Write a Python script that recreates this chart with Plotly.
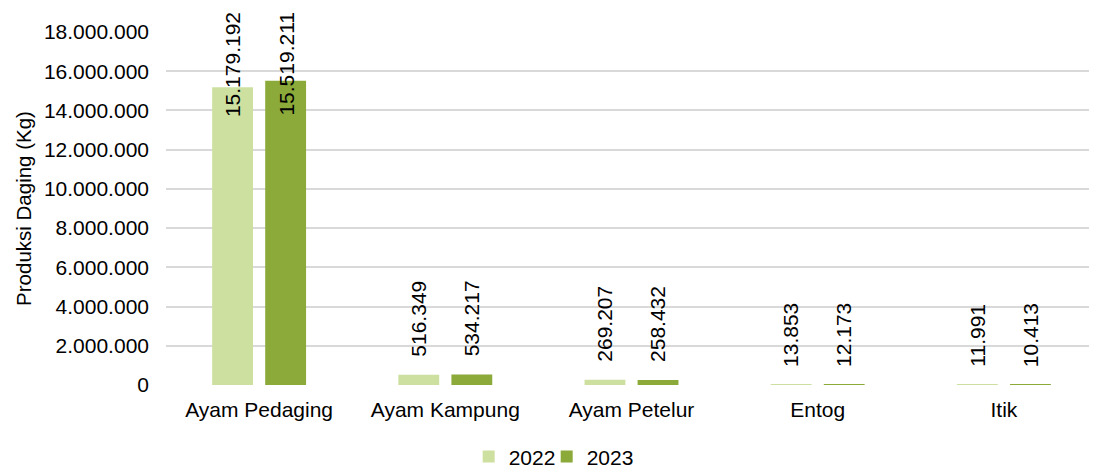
import plotly.graph_objects as go

categories = ["Ayam Pedaging", "Ayam Kampung", "Ayam Petelur", "Entog", "Itik"]
years = ["2022", "2023"]
produksi_2022 = [15179192, 516349, 269207, 13853, 11991]
produksi_2023 = [15519211, 534217, 258432, 12173, 10413]
y_ticks = list(range(0, 18000001, 2000000))

colors = {"2022": "#CDE0A0", "2023": "#8BAA3A"}
FONT = "Arial, Liberation Sans, sans-serif"
FS = 21


def fmt(v):
    # format with dots as thousands separator
    return f"{v:,}".replace(",", ".")


fig = go.Figure()
legends = {"2022": "legend", "2023": "legend2"}
for year, vals in zip(years, [produksi_2022, produksi_2023]):
    fig.add_trace(go.Bar(x=categories, y=vals, name=year, legend=legends[year],
                         marker=dict(color=colors[year], line=dict(width=0))))

# data labels, rotated; the tallest ones are pushed inside the plot top like Excel does
shift = {"2022": -26.5, "2023": 26.5}
for year, vals in zip(years, [produksi_2022, produksi_2023]):
    for cat, v in zip(categories, vals):
        if v > 12000000:
            fig.add_annotation(x=cat, y=1, yref="paper", yanchor="top", yshift=22,
                               xshift=shift[year], text=fmt(v), textangle=-90,
                               showarrow=False, font=dict(size=FS, color="#000000", family=FONT))
        else:
            fig.add_annotation(x=cat, y=v, yanchor="bottom", yshift=16,
                               xshift=shift[year], text=fmt(v), textangle=-90,
                               showarrow=False, font=dict(size=FS, color="#000000", family=FONT))

# one legend per year so the two entries sit as close together as in Excel
leg = dict(orientation="h", xref="container", xanchor="left", bgcolor="rgba(0,0,0,0)",
           yref="container", y=0.045, yanchor="middle", font=dict(size=FS), itemwidth=30)
leg_x = 0.44 - 22 / 1097

fig.update_layout(
    width=1097, height=470,
    margin=dict(l=158, r=8, t=24, b=93),
    paper_bgcolor="white", plot_bgcolor="white",
    font=dict(family=FONT, size=FS, color="#000000"),
    barmode="group", bargap=0.43, bargroupgap=0.23,
    showlegend=True,
    legend=dict(leg, x=leg_x),
    legend2=dict(leg, x=leg_x + 78 / 1097),
    xaxis=dict(showline=False, ticks="", tickfont=dict(size=FS), ticklabelstandoff=10),
    yaxis=dict(range=[0, 18000000], tickvals=y_ticks, ticktext=[fmt(t) for t in y_ticks],
               showgrid=True, gridcolor="#D9D9D9", gridwidth=2, zeroline=False,
               ticks="", tickfont=dict(size=FS), ticklabelstandoff=16,
               title=dict(text="Produksi Daging (Kg)", font=dict(size=20.5), standoff=6)),
)

fig.write_html("out.html")
